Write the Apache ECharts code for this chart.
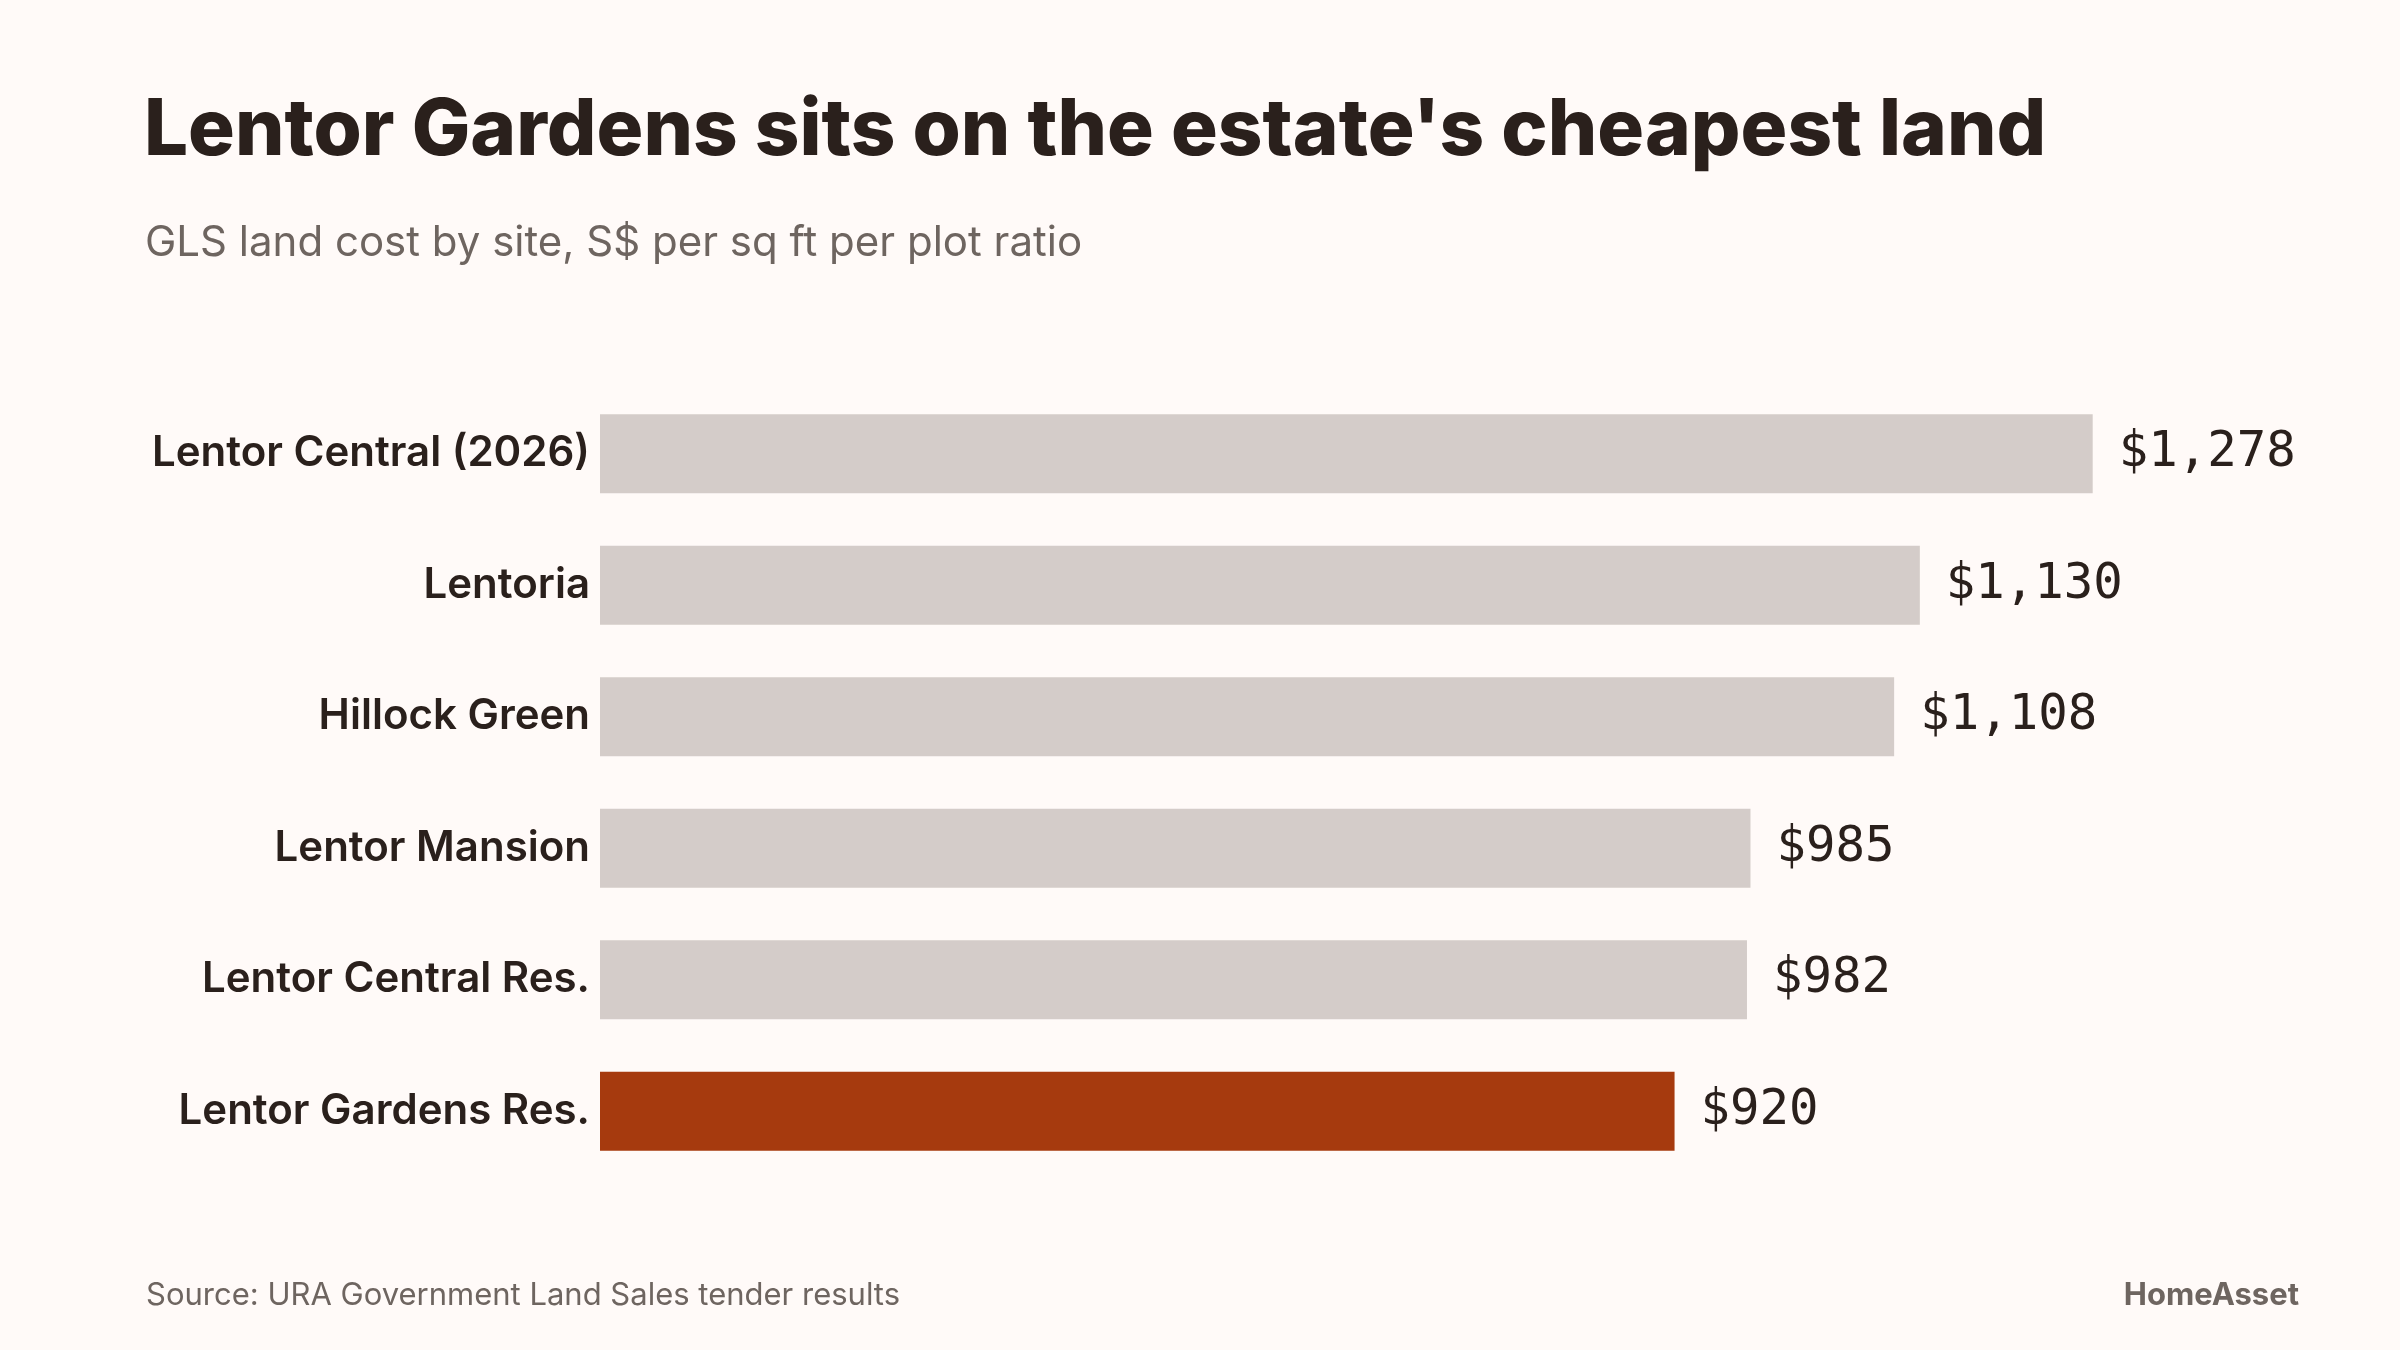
<!DOCTYPE html>
<html>
<head>
<meta charset="utf-8">
<script src="https://cdn.jsdelivr.net/npm/echarts@6/dist/echarts.min.js"></script>
<style>
  html, body { margin: 0; padding: 0; background: #fffaf8; }
  #chart { width: 2400px; height: 1350px; }
</style>
</head>
<body>
<div id="chart"></div>
<script>
// land cost by GLS site, S$ psf ppr
const sites = ['Lentor Central (2026)', 'Lentoria', 'Hillock Green', 'Lentor Mansion', 'Lentor Central Res.', 'Lentor Gardens Res.'];
const landCost = [1278, 1130, 1108, 985, 982, 920];
const highlightSite = 'Lentor Gardens Res.';

const ink = '#2a201c';
const muted = '#6e6560';

let myChart = echarts.init(document.getElementById('chart'));

let option = {
	backgroundColor: '#fffaf8',
	title: [{
			text: "Lentor Gardens sits on the estate's cheapest land",
			left: 139,
			top: 88,
			textStyle: {
				fontFamily: 'Inter',
				fontWeight: 800,
				fontSize: 78,
				color: ink
			}
		},
		{
			text: 'GLS land cost by site, S$ per sq ft per plot ratio',
			left: 140,
			top: 217,
			textStyle: {
				fontFamily: 'Inter',
				fontWeight: 400,
				fontSize: 42,
				color: muted
			}
		},
		{
			text: 'Source: URA Government Land Sales tender results',
			left: 141,
			top: 1275,
			textStyle: {
				fontFamily: 'Inter',
				fontWeight: 400,
				fontSize: 31,
				color: muted
			}
		},
		{
			text: 'HomeAsset',
			right: 96,
			top: 1275,
			textStyle: {
				fontFamily: 'Inter',
				fontWeight: 700,
				fontSize: 31,
				color: muted
			}
		}
	],
	grid: {
		left: 600,
		right: 48,
		top: 388,
		height: 789
	},
	xAxis: {
		type: 'value',
		min: 0,
		max: 1500,
		show: false
	},
	yAxis: {
		type: 'category',
		data: sites,
		inverse: true,
		axisLine: { show: false },
		axisTick: { show: false },
		axisLabel: {
			margin: 10,
			fontFamily: 'Inter',
			fontWeight: 600,
			fontSize: 42,
			color: ink
		}
	},
	series: [{
		type: 'bar',
		barWidth: 79,
		data: landCost.map((v, i) => ({
			value: v,
			itemStyle: {
				color: sites[i] === highlightSite ? '#a63a0e' : '#d4ccc9'
			}
		})),
		label: {
			show: true,
			position: 'right',
			distance: 26,
			fontFamily: 'DejaVu Sans Mono',
			fontSize: 49,
			color: ink,
			formatter: p => '$' + p.value.toLocaleString('en-US')
		},
		silent: true
	}]
};

myChart.setOption(option);
</script>
</body>
</html>
